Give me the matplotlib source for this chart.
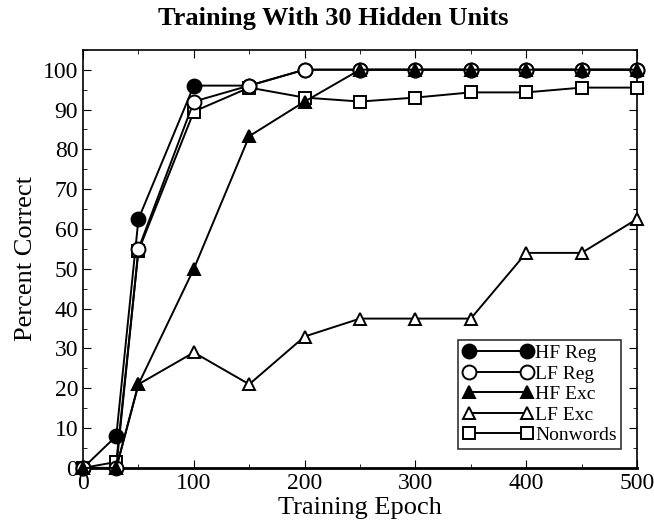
import matplotlib.pyplot as plt
from matplotlib.ticker import MultipleLocator

plt.rcParams['font.family'] = ['Liberation Serif', 'DejaVu Serif']

# Training epochs and percent correct per condition
epochs = [0, 30, 50, 100, 150, 200, 250, 300, 350, 400, 450, 500]
hf_reg = [0, 8, 62.5, 96, 96, 100, 100, 100, 100, 100, 100, 100]
lf_reg = [0, 0, 55, 92, 96, 100, 100, 100, 100, 100, 100, 100]
hf_exc = [0, 0, 21, 50, 83.3, 92, 100, 100, 100, 100, 100, 100]
lf_exc = [0, 0, 21, 29, 21, 33, 37.5, 37.5, 37.5, 54, 54, 62.5]
nonwords = [0, 1.5, 54.5, 89.5, 95.5, 93, 92, 93, 94.3, 94.3, 95.5, 95.5]

fig = plt.figure(figsize=(6.54, 5.24), dpi=100)
ax = fig.add_axes([0.127, 0.107, 0.847, 0.798])

style = dict(color='black', lw=1.4, mec='black', mew=1.4, clip_on=False)
ax.plot(epochs, nonwords, marker='s', ms=8.5, mfc='white', label='Nonwords', zorder=3, **style)
ax.plot(epochs, lf_exc, marker='^', ms=9, mfc='white', label='LF Exc', zorder=3, **style)
ax.plot(epochs, hf_reg, marker='o', ms=10, mfc='black', label='HF Reg', zorder=4, **style)
ax.plot(epochs, lf_reg, marker='o', ms=10, mfc='white', label='LF Reg', zorder=5, **style)
ax.plot(epochs, hf_exc, marker='^', ms=9, mfc='black', label='HF Exc', zorder=6, **style)

ax.set_xlim(0, 500)
ax.set_ylim(0, 105)
ax.xaxis.set_major_locator(MultipleLocator(100))
ax.xaxis.set_minor_locator(MultipleLocator(50))
ax.yaxis.set_major_locator(MultipleLocator(10))
ax.yaxis.set_minor_locator(MultipleLocator(5))
ax.tick_params(which='both', direction='in', top=True, right=True, labelsize=17)
ax.tick_params(which='major', length=6)
ax.tick_params(which='minor', length=3)
for s in ax.spines.values():
    s.set_linewidth(1.2)
ax.spines['bottom'].set_linewidth(2)

ax.set_xlabel('Training Epoch', fontsize=19, labelpad=2)
ax.set_ylabel('Percent Correct', fontsize=19, labelpad=4)
fig.text(0.509, 0.965, 'Training With 30 Hidden Units', fontsize=19,
         fontweight='bold', ha='center', va='center')

handles, labels = ax.get_legend_handles_labels()
order = [2, 3, 4, 1, 0]
leg = ax.legend([handles[i] for i in order], [labels[i] for i in order],
                loc='lower right', bbox_to_anchor=(0.972, 0.045), numpoints=2,
                fontsize=14, frameon=True, fancybox=False, edgecolor='black',
                handlelength=3.6, handletextpad=0.1, borderpad=0.25,
                labelspacing=0.15, borderaxespad=0)
leg.get_frame().set_linewidth(1.2)

fig.savefig('out.png', dpi=100)
